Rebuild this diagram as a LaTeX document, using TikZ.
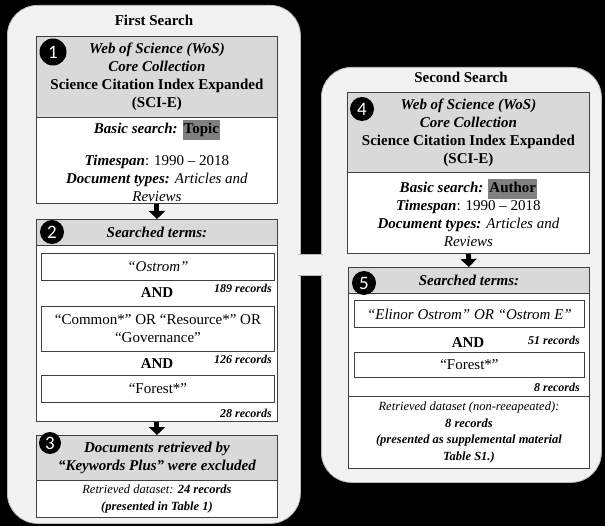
\documentclass[tikz,border=0pt]{standalone}
\usepackage{fontspec}
\setmainfont{Liberation Serif}
\newfontfamily\numfont{Carlito}
\usetikzlibrary{arrows.meta}
\definecolor{panelc}{RGB}{242,242,242}
\definecolor{hdrc}{RGB}{217,217,217}
\definecolor{edgec}{RGB}{64,64,64}
\definecolor{pedge}{RGB}{185,185,185}
\definecolor{hlc}{RGB}{128,128,128}
\newcommand{\hlword}[1]{{\setlength{\fboxsep}{1pt}\colorbox{hlc}{\strut #1}}}
\begin{document}
\begin{tikzpicture}[x=1pt,y=-1pt,
  panel/.style={draw=pedge, fill=panelc, rounded corners=30pt, line width=0.8pt, anchor=north west, inner sep=0pt},
  ptitle/.style={font=\fontsize{15}{18}\selectfont\bfseries, inner sep=0pt},
  hdr/.style={draw=edgec, fill=hdrc, line width=0.9pt, anchor=north west, inner sep=0pt, align=center, font=\fontsize{15}{18}\selectfont\bfseries},
  wbox/.style={draw=edgec, fill=white, line width=0.9pt, anchor=north west, inner sep=0pt, align=center, font=\fontsize{15}{18}\selectfont},
  sbox/.style={draw=edgec, fill=white, line width=0.9pt, anchor=north west, inner sep=0pt, align=center, font=\fontsize{12.5}{16.5}\selectfont},
  rec/.style={anchor=east, inner sep=0pt, font=\fontsize{12}{14}\selectfont\bfseries\itshape},
  andlbl/.style={inner sep=0pt, font=\fontsize{15}{18}\selectfont\bfseries},
  numc/.style={circle, fill=black, text=white, inner sep=0pt, font=\numfont\fontsize{19}{19}\selectfont},
  bigarrow/.style={line width=5pt, draw=black, -{Triangle[width=16pt,length=8pt]}}
]
\fill[black] (0,0) rectangle (605,526);
\useasboundingbox (0,0) rectangle (605,526);

% panels
\node[panel, minimum width=293pt, minimum height=518pt] (p1) at (7,5) {};
\node[panel, minimum width=280pt, minimum height=415pt] (p2) at (321,67) {};
\node[fill=panelc, inner sep=0pt, minimum width=25pt, minimum height=21pt, anchor=north west] (band) at (298,254) {};
\draw[pedge, line width=0.6pt] (band.north west) -- (band.north east) (band.south west) -- (band.south east);

\node[ptitle] (t1) at (154,20) {First Search};
\node[ptitle] (t2) at (461,77) {Second Search};

% ---------- first search ----------
\node[hdr, minimum width=241pt, minimum height=81pt] (h1) at (36,36)
  {\itshape Web of Science (WoS)\\ \itshape Core Collection\\ Science Citation Index Expanded\\ (SCI-E)};
\node[wbox, minimum width=241pt, minimum height=86pt] (w1) at (36,117)
  {\textbf{\textit{Basic search:}} \hlword{\textbf{Topic}}\\[14pt]
   \textbf{\textit{Timespan}}: 1990 – 2018\\
   \textbf{\textit{Document types:}} \textit{Articles and}\\
   \textit{Reviews}};
\node[hdr, minimum width=241pt, minimum height=26pt] (h2) at (36,219) {\itshape Searched terms:};
\node[wbox, minimum width=241pt, minimum height=176pt] (w2) at (36,245) {};
\node[wbox, minimum width=233pt, minimum height=27pt] (o1) at (41,253) {\itshape “Ostrom”};
\node[rec] (r189) at (272,288) {189 records};
\node[andlbl] (and1) at (157,293) {AND};
\node[wbox, minimum width=233pt, minimum height=45pt] (o2) at (41,306)
  {“Common*” OR “Resource*” OR\\ “Governance”};
\node[rec] (r126) at (272,359) {126 records};
\node[andlbl] (and2) at (157,364) {AND};
\node[wbox, minimum width=233pt, minimum height=27pt] (o3) at (41,375) {“Forest*”};
\node[rec] (r28) at (272,413) {28 records};
\node[hdr, minimum width=241pt, minimum height=45pt] (h3) at (36,435)
  {\itshape Documents retrieved by\\ \itshape “Keywords Plus” were excluded};
\node[sbox, minimum width=241pt, minimum height=37pt] (w3) at (36,480)
  {\textit{Retrieved dataset:} \textbf{\textit{24 records}}\\ \textbf{\textit{(presented in Table 1)}}};

\draw[bigarrow] (w1.south) -- (h2.north);
\draw[bigarrow] (w2.south) -- (h3.north);

\node[numc, minimum size=27pt] (c1) at (53,52) {1};
\node[numc, minimum size=24pt] (c2) at (52,232) {2};
\node[numc, minimum size=22pt] (c3) at (50,443) {3};

% ---------- second search ----------
\node[hdr, minimum width=242pt, minimum height=80pt] (h4) at (347,92)
  {\itshape Web of Science (WoS)\\ \itshape Core Collection\\ Science Citation Index Expanded\\ (SCI-E)};
\node[wbox, minimum width=242pt, minimum height=81pt] (w4) at (347,172)
  {\textbf{\textit{Basic search:}} \hlword{\textbf{Author}}\\
   \textbf{\textit{Timespan}}: 1990 – 2018\\
   \textbf{\textit{Document types:}} \textit{Articles and}\\
   \textit{Reviews}};
\node[hdr, minimum width=241pt, minimum height=26pt] (h5) at (348,267) {\itshape Searched terms:};
\node[wbox, minimum width=241pt, minimum height=103pt] (w5) at (348,293) {};
\node[wbox, minimum width=230pt, minimum height=27pt] (e1) at (354,300) {\itshape “Elinor Ostrom” OR “Ostrom E”};
\node[rec] (r51) at (580,340) {51 records};
\node[andlbl] (and3) at (468,343) {AND};
\node[wbox, minimum width=230pt, minimum height=25pt] (e2) at (354,352) {“Forest*”};
\node[rec] (r8) at (580,387) {8 records};
\node[sbox, minimum width=241pt, minimum height=72pt] (w6) at (348,396)
  {\textit{Retrieved dataset (non-reeapeated):}\\ \textbf{\textit{8 records}}\\
   \textbf{\textit{(presented as supplemental material}}\\ \textbf{\textit{Table S1.)}}};

\draw[bigarrow] (w4.south) -- (h5.north);

\node[numc, minimum size=24pt] (c4) at (362,109) {4};
\node[numc, minimum size=24pt] (c5) at (364,283) {5};
\end{tikzpicture}
\end{document}
